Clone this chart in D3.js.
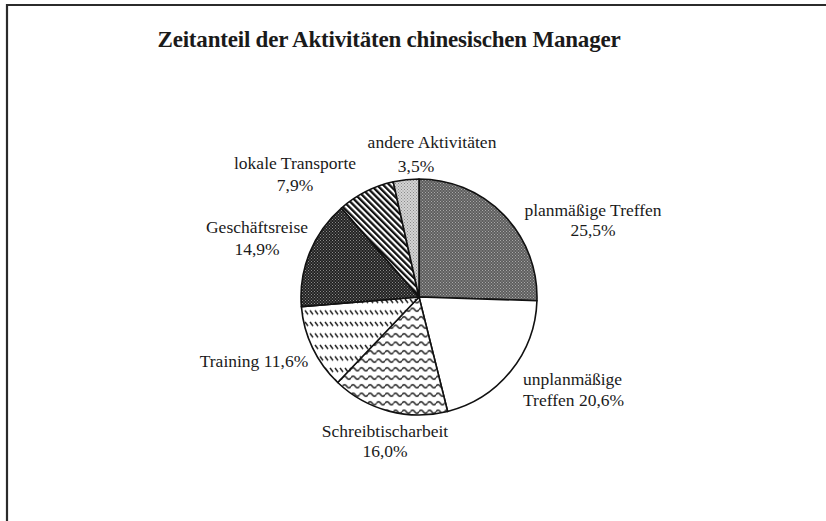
<!DOCTYPE html>
<html>
<head>
<meta charset="utf-8">
<script src="https://cdn.jsdelivr.net/npm/d3@7/dist/d3.min.js"></script>
<style>
  html, body { margin: 0; padding: 0; background: #fff; }
  svg { display: block; }
  text { font-family: "Liberation Serif", "Times New Roman", serif; fill: #1a1a1a; }
</style>
</head>
<body>
<svg id="chart" width="826" height="521"></svg>
<script>
// Activity shares (percent), clockwise from 12 o'clock
const categories = [
  "planmäßige Treffen",
  "unplanmäßige Treffen",
  "Schreibtischarbeit",
  "Training",
  "Geschäftsreise",
  "lokale Transporte",
  "andere Aktivitäten"
];
const shares = [25.5, 20.6, 16.0, 11.6, 14.9, 7.9, 3.5];
const title = "Zeitanteil der Aktivitäten chinesischen Manager";

// Fill pattern used for each slice
const fills = ["dotsMid", "none", "waves", "dashRows", "dotsDark", "stripes", "dotsLight"];

// Label layout relative to the pie centre: anchor, and lines with offsets
const labelLayout = [
  { anchor: "middle", lines: [{ t: "name", dx: 174, dy: -81 }, { t: "value", dx: 174, dy: -61 }] },
  { anchor: "start",  lines: [{ t: "unplanmäßige", dx: 104, dy: 88 }, { t: "Treffen {v}", dx: 104, dy: 109 }] },
  { anchor: "middle", lines: [{ t: "name", dx: -34, dy: 140 }, { t: "value", dx: -34, dy: 160 }] },
  { anchor: "middle", lines: [{ t: "{n} {v}", dx: -165, dy: 70 }] },
  { anchor: "middle", lines: [{ t: "name", dx: -162, dy: -64 }, { t: "value", dx: -162, dy: -42 }] },
  { anchor: "middle", lines: [{ t: "name", dx: -124, dy: -128 }, { t: "value", dx: -124, dy: -106 }] },
  { anchor: "middle", lines: [{ t: "name", dx: 13, dy: -149 }, { t: "value", dx: -3, dy: -125 }] }
];

const svg = d3.select("#chart");
const W = 826, H = 521;
const cx = 419, cy = 297, R = 118;

const fmt = v => d3.format(".1f")(v).replace(".", ",") + "%";

// ---- patterns ----
const defs = svg.append("defs");

function dotPattern(id, bg, fg, size) {
  const p = defs.append("pattern").attr("id", id)
    .attr("patternUnits", "userSpaceOnUse").attr("width", size).attr("height", size);
  p.append("rect").attr("width", size).attr("height", size).attr("fill", bg);
  p.append("rect").attr("width", 1).attr("height", 1).attr("fill", fg);
  p.append("rect").attr("x", size / 2).attr("y", size / 2).attr("width", 1).attr("height", 1).attr("fill", fg);
}
dotPattern("dotsMid", "#5e5e5e", "#a8a8a8", 3);
dotPattern("dotsDark", "#222", "#8a8a8a", 3);
dotPattern("dotsLight", "#d4d4d4", "#8a8a8a", 3);

// diagonal stripes
const st = defs.append("pattern").attr("id", "stripes")
  .attr("patternUnits", "userSpaceOnUse").attr("width", 4.4).attr("height", 10)
  .attr("patternTransform", "rotate(-45)");
st.append("rect").attr("width", 4.4).attr("height", 10).attr("fill", "#fff");
st.append("rect").attr("width", 2.3).attr("height", 10).attr("fill", "#111");

// rows of short slanted dashes
const dr = defs.append("pattern").attr("id", "dashRows")
  .attr("patternUnits", "userSpaceOnUse").attr("width", 5).attr("height", 11.5);
dr.append("rect").attr("width", 5).attr("height", 11.5).attr("fill", "#fff");
dr.append("line").attr("x1", 1).attr("y1", 2).attr("x2", 4).attr("y2", 6)
  .attr("stroke", "#222").attr("stroke-width", 1.5);

// wavy lines
const wv = defs.append("pattern").attr("id", "waves")
  .attr("patternUnits", "userSpaceOnUse").attr("width", 8.5).attr("height", 8.5);
wv.append("rect").attr("width", 8.5).attr("height", 8.5).attr("fill", "#fff");
wv.append("path")
  .attr("d", "M0,4.25 Q2.125,1 4.25,4.25 T8.5,4.25")
  .attr("fill", "none").attr("stroke", "#333").attr("stroke-width", 1.7);

// ---- frame ----
svg.append("rect").attr("width", W).attr("height", H).attr("fill", "#fff");
svg.append("path")
  .attr("d", `M7,${H} L7,5 L${W},5`)
  .attr("fill", "none").attr("stroke", "#2b2b2b").attr("stroke-width", 2.2);

// ---- title ----
svg.append("text")
  .attr("x", 389).attr("y", 47)
  .attr("text-anchor", "middle")
  .attr("font-size", 23).attr("font-weight", "bold")
  .attr("letter-spacing", -0.2)
  .text(title);

// ---- pie ----
const data = categories.map((c, i) => ({ name: c, value: shares[i], fill: fills[i], layout: labelLayout[i] }));
const pie = d3.pie().sort(null).value(d => d.value).startAngle(0).endAngle(2 * Math.PI);
const arc = d3.arc().innerRadius(0).outerRadius(R);
const arcs = pie(data);

const g = svg.append("g").attr("transform", `translate(${cx},${cy})`);
g.selectAll("path.slice")
  .data(arcs)
  .join("path")
  .attr("class", "slice")
  .attr("d", arc)
  .attr("fill", d => d.data.fill === "none" ? "#fff" : `url(#${d.data.fill})`)
  .attr("stroke", "#111")
  .attr("stroke-width", 1.6)
  .attr("stroke-linejoin", "round");

// ---- labels ----
const lg = g.append("g");
arcs.forEach(a => {
  const d = a.data;
  d.layout.lines.forEach(l => {
    let s;
    if (l.t === "name") s = d.name;
    else if (l.t === "value") s = fmt(d.value);
    else s = l.t.replace("{n}", d.name).replace("{v}", fmt(d.value));
    lg.append("text")
      .attr("x", l.dx).attr("y", l.dy)
      .attr("text-anchor", d.layout.anchor)
      .attr("font-size", 17.5)
      .text(s);
  });
});
</script>
</body>
</html>
